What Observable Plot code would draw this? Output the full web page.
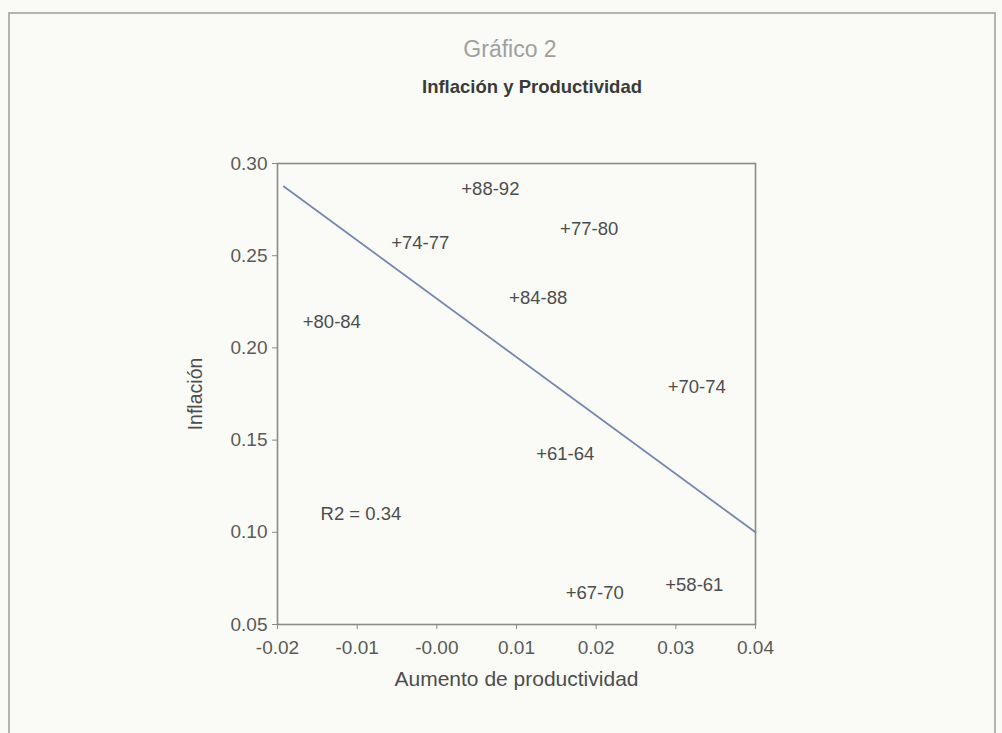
<!DOCTYPE html>
<html>
<head>
<meta charset="utf-8">
<script src="https://cdn.jsdelivr.net/npm/d3@7"></script>
<script src="https://cdn.jsdelivr.net/npm/@observablehq/plot@0.6"></script>
<style>
  html, body { margin: 0; padding: 0; background: #fafbf6; }
  #page { position: relative; width: 1002px; height: 733px; overflow: hidden; background: #fafbf6; font-family: "Liberation Sans", Arial, Helvetica, sans-serif; }
  #border { position: absolute; left: 8px; top: 12px; width: 984px; height: 740px; border: 2px solid #b4b4b0; }
  #header { position: relative; height: 120px; }
  #kicker { position: absolute; left: 0; width: 1020px; top: 36px; text-align: center; font-size: 23px; color: #a0a0a0; }
  #title { position: absolute; left: 0; width: 1064px; top: 76px; text-align: center; font-size: 18.5px; font-weight: bold; color: #3a3a3a; }
  #chart { position: relative; }
</style>
</head>
<body>
<div id="page">
  <div id="border"></div>
  <div id="header">
    <div id="kicker">Gráfico 2</div>
    <div id="title">Inflación y Productividad</div>
  </div>
  <div id="chart"></div>
</div>
<script>
// Periods and their (productivity growth, inflation) values
const periods = ["88-92", "74-77", "77-80", "84-88", "80-84", "70-74", "61-64", "67-70", "58-61"];
const productividad = [0.0037, -0.0051, 0.0161, 0.0097, -0.0162, 0.0296, 0.0131, 0.0168, 0.0293];
const inflacion = [0.2864, 0.2566, 0.2642, 0.2268, 0.2138, 0.1785, 0.1422, 0.0673, 0.0712];

// Fitted regression line endpoints
const fitX = [-0.0192, 0.04];
const fitY = [0.2875, 0.100];

// R2 annotation
const r2Text = ["R2 = 0.34"];
const r2X = [-0.0146];
const r2Y = [0.110];

// Ticks
const xTicks = [-0.02, -0.01, 0.00, 0.01, 0.02, 0.03, 0.04];
const xTickLabels = ["-0.02", "-0.01", "-0.00", "0.01", "0.02", "0.03", "0.04"];
const yTicks = [0.05, 0.10, 0.15, 0.20, 0.25, 0.30];
const yTickLabels = ["0.05", "0.10", "0.15", "0.20", "0.25", "0.30"];

const points = periods.map((p, i) => ({label: "+" + p, x: productividad[i], y: inflacion[i]}));
const fit = fitX.map((x, i) => ({x, y: fitY[i]}));
const r2 = r2Text.map((t, i) => ({text: t, x: r2X[i], y: r2Y[i]}));

const axisColor = "#8a8a88";
const textColor = "#4d4d4d";

const chart = Plot.plot({
  width: 1002,
  height: 613,
  marginLeft: 277,
  marginRight: 247,
  marginTop: 43,
  marginBottom: 109,
  style: {fontFamily: '"Liberation Sans", Arial, Helvetica, sans-serif', fontSize: "19px", color: "#5a5a5a", background: "transparent"},
  x: {domain: [-0.02, 0.04]},
  y: {domain: [0.05, 0.30]},
  marks: [
    Plot.frame({stroke: axisColor, strokeWidth: 1.6}),
    Plot.axisX({ticks: xTicks, tickFormat: d => xTickLabels[xTicks.indexOf(d)], tickSize: 5, tickPadding: 11, fontSize: 19, stroke: axisColor, label: null}),
    Plot.axisY({ticks: yTicks, tickFormat: d => yTickLabels[yTicks.indexOf(d)], tickSize: 5, tickPadding: 5, fontSize: 19, stroke: axisColor, label: null}),
    Plot.line(fit, {x: "x", y: "y", stroke: "#7788b0", strokeWidth: 1.8}),
    Plot.text(points, {x: "x", y: "y", text: "label", textAnchor: "start", dx: -5, fontSize: 18.5, fill: textColor}),
    Plot.text(r2, {x: "x", y: "y", text: "text", textAnchor: "start", fontSize: 18.5, fill: textColor}),
    Plot.text(["Inflación"], {frameAnchor: "left", dx: -82, rotate: -90, textAnchor: "middle", fontSize: 19.5, fill: textColor}),
    Plot.text(["Aumento de productividad"], {frameAnchor: "bottom", dy: 61, textAnchor: "middle", fontSize: 21, fill: textColor})
  ]
});
document.getElementById("chart").appendChild(chart);
</script>
</body>
</html>
